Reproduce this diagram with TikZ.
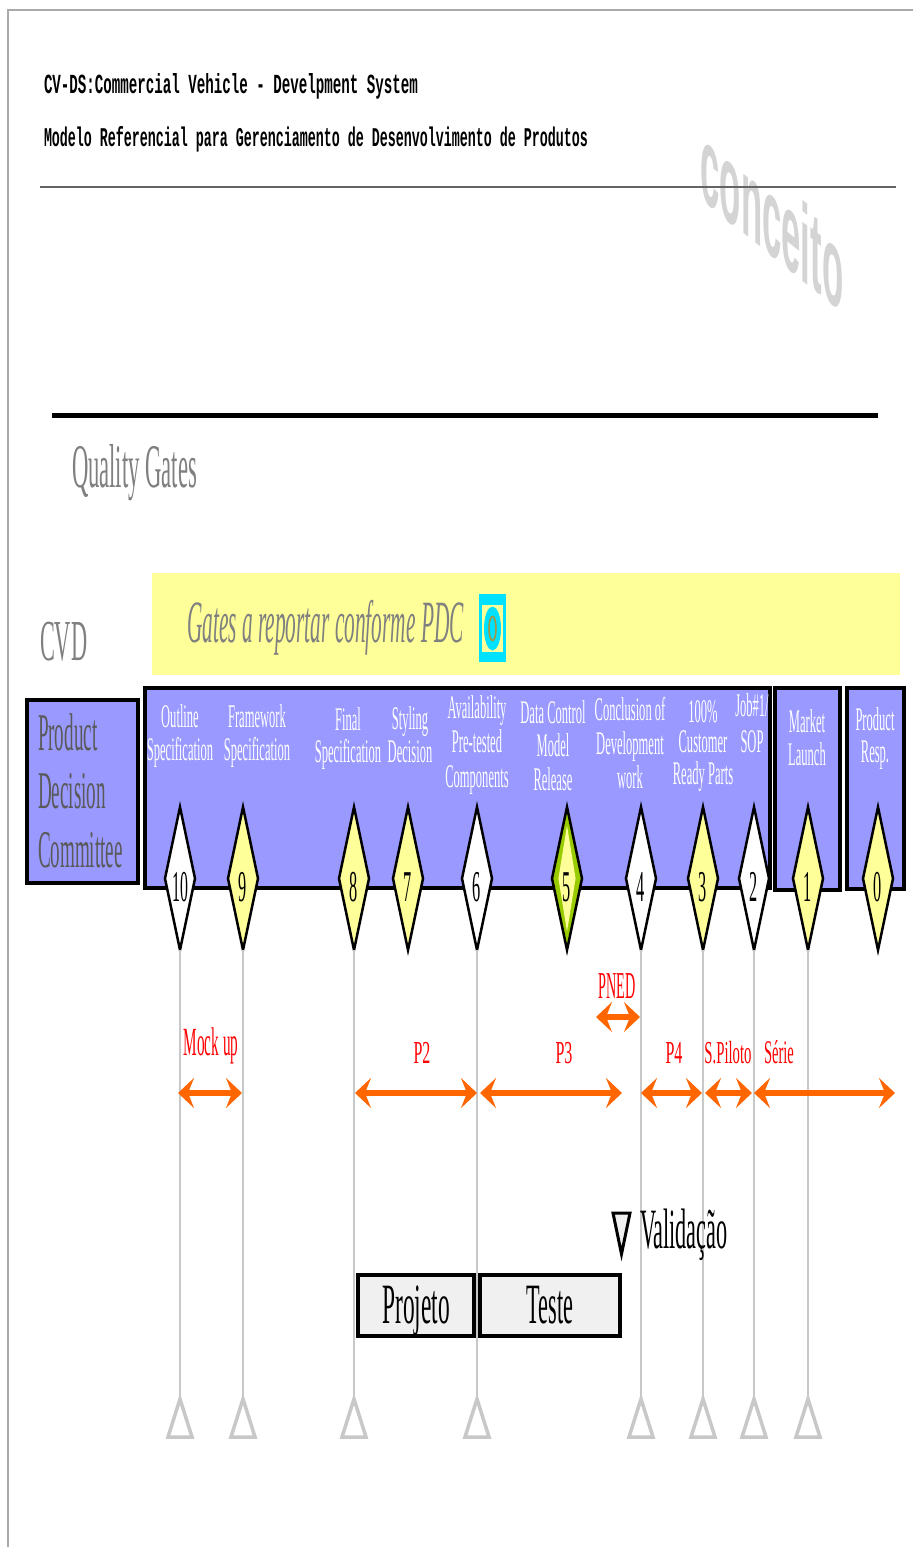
\documentclass[tikz,border=0pt]{standalone}
\usepackage{fontspec}
\usepackage{graphicx}
\setmainfont{Liberation Serif}
\newfontfamily\wmfont{Liberation Sans}
\newfontfamily\monofnt{Liberation Mono}
\usetikzlibrary{arrows.meta,shapes.geometric}
\definecolor{gateblue}{RGB}{153,153,255}
\definecolor{lightyellow}{RGB}{255,255,153}
\definecolor{gatelime}{RGB}{153,204,0}
\definecolor{orangeline}{RGB}{255,102,0}
\definecolor{txtgray}{RGB}{128,128,128}
\definecolor{pdcgray}{RGB}{90,90,90}
\definecolor{linegray}{RGB}{200,200,200}
\definecolor{wmgray}{RGB}{212,212,212}
\definecolor{iconcyan}{RGB}{0,225,255}
\definecolor{iconolive}{RGB}{160,150,70}
\definecolor{boxgray}{RGB}{240,240,240}
\definecolor{framegray}{RGB}{170,170,170}
\definecolor{rulegray}{RGB}{100,100,100}
\definecolor{labelred}{RGB}{255,0,0}
\newcommand{\tx}[3]{{\fontsize{#1}{#1}\selectfont\scalebox{#2}[1]{#3}}}
\newcommand{\mlc}[4]{{\fontsize{#1}{#2}\selectfont\scalebox{#3}[1]{\begin{tabular}[t]{@{}c@{}}#4\end{tabular}}}}
\newcommand{\mll}[4]{{\fontsize{#1}{#2}\selectfont\scalebox{#3}[1]{\begin{tabular}[t]{@{}l@{}}#4\end{tabular}}}}
\begin{document}
\begin{tikzpicture}[x=1pt,y=-1pt,
  every node/.style={inner sep=0pt, outer sep=0pt},
  gate/.style={diamond, aspect=0.2, draw=black, line width=2.5pt, minimum width=30pt, minimum height=143pt, text height=45pt, text depth=0pt},
  blbl/.style={anchor=base, text=white},
  rlbl/.style={anchor=base, text=labelred},
  gline/.style={draw=linegray, line width=2pt},
  gtri/.style={draw=linegray, line width=3.5pt, line join=miter},
  oarr/.style={draw=orangeline, line width=6pt, >={Stealth[length=16pt,width=30pt,inset=6pt]}, <->},
  bluebox/.style={fill=gateblue, draw=black, line width=4pt},
  phasebox/.style={draw=black, fill=boxgray, line width=4pt, text height=39pt, text depth=4pt}
]
\useasboundingbox (0,0) rectangle (913,1547);
\fill[white] (0,0) rectangle (913,1547);
\draw[framegray, line width=1.5pt] (8,1547) -- (8,10) -- (913,10);

% titles
\node[anchor=base west] (title1) at (44,93) {\resizebox{374pt}{20pt}{\monofnt\bfseries CV-DS:Commercial Vehicle - Develpment System}};
\node[anchor=base west] (title2) at (44,146) {\resizebox{544pt}{20pt}{\monofnt\bfseries Modelo Referencial para Gerenciamento de Desenvolvimento de Produtos}};

% watermark
\begin{scope}[shift={(772,216)}]
\node[yslant=-0.8, transform shape, text=wmgray] (wm) at (0,0) {\wmfont\bfseries\fontsize{112}{112}\selectfont\scalebox{0.31}[1]{conceito}};
\end{scope}
\draw[rulegray, line width=1.5pt] (40,187) -- (896,187);

\draw[black, line width=5pt] (52,415) -- (878,415);

\node[anchor=base west, text=txtgray] (qg) at (72,487) {\tx{62}{0.365}{Quality Gates}};
\node[anchor=base west, text=txtgray] (cvd) at (40,660) {\tx{58}{0.385}{CVD}};

% yellow banner
\fill[lightyellow] (152,573) rectangle (900,675);
\node[anchor=base west, text=txtgray] (banner) at (187,642) {\itshape\tx{60}{0.356}{Gates a reportar conforme PDC}};
\fill[iconcyan] (479,594) rectangle (506,662);
\fill[lightyellow] (482,605) rectangle (503,652);
\fill[iconcyan] (492.5,628.5) ellipse [x radius=8.5, y radius=22];
\draw[iconolive, line width=1.6pt] (492.5,628.5) ellipse [x radius=3.5, y radius=12];

% boxes
\draw[bluebox] (27,700) rectangle (138,883);
\node[anchor=base west, text=pdcgray] (pdc) at (38,750) {\mll{53}{58.5}{0.36}{Product\\Decision\\Committee}};
\draw[bluebox] (145,688) rectangle (769.5,888);
\draw[bluebox] (775,688) rectangle (840,890);
\draw[bluebox] (847,688) rectangle (904,889);

% gate labels
\node[blbl] (l10) at (180,727) {\mlc{33}{33}{0.38}{Outline\\Specification}};
\node[blbl] (l9) at (257,727) {\mlc{33}{33}{0.38}{Framework\\Specification}};
\node[blbl] (l8) at (348,730) {\mlc{33}{32}{0.38}{Final\\Specification}};
\node[blbl] (l7) at (410,729) {\mlc{33}{33}{0.38}{Styling\\Decision}};
\node[blbl] (l6) at (477,718) {\mlc{33}{34.5}{0.38}{Availability\\Pre-tested\\Components}};
\node[blbl] (l5) at (553,723) {\mlc{33}{33.5}{0.38}{Data Control\\Model\\Release}};
\node[blbl] (l4) at (630,720) {\mlc{33}{34}{0.38}{Conclusion of\\Development\\work}};
\node[blbl] (l3) at (703,722) {\mlc{33}{29}{0.38}{100\%\\Customer\\Ready Parts}};
\node[blbl] (l2) at (752,716) {\mlc{33}{36}{0.38}{Job\#1/\\SOP}};
\node[blbl] (l1) at (807,732) {\mlc{33}{33}{0.38}{Market\\Launch}};
\node[blbl] (l0) at (875,730) {\mlc{33}{32}{0.38}{Product\\Resp.}};

% triangle apex coordinates
\foreach \n/\x in {10/180,9/243,8/354,6/477,4/641,3/703,2/754,1/808}{
  \coordinate (t\n) at (\x,1399);
}

% gates
\node[gate, fill=white] (g10) at (180,878.5) {\tx{44}{0.36}{10}};
\node[gate, fill=lightyellow] (g9) at (243,878.5) {\tx{44}{0.37}{9}};
\node[gate, fill=lightyellow] (g8) at (354,878.5) {\tx{44}{0.37}{8}};
\node[gate, fill=lightyellow] (g7) at (408,878.5) {\tx{44}{0.37}{7}};
\node[gate, fill=white] (g6) at (477,878.5) {\tx{44}{0.37}{6}};
\node[gate, fill=gatelime] (g5) at (567,878.5) {};
\node[diamond, aspect=0.2, fill=lightyellow, minimum width=17pt, minimum height=106pt, text height=45pt, text depth=0pt] (g5in) at (567,878.5) {\tx{44}{0.37}{5}};
\node[gate, fill=white] (g4) at (641,878.5) {\tx{44}{0.37}{4}};
\node[gate, fill=lightyellow] (g3) at (703,878.5) {\tx{44}{0.37}{3}};
\node[gate, fill=white] (g2) at (754,878.5) {\tx{44}{0.37}{2}};
\node[gate, fill=lightyellow] (g1) at (808,878.5) {\tx{44}{0.37}{1}};
\node[gate, fill=lightyellow] (g0) at (878,878.5) {\tx{44}{0.37}{0}};

% vertical lines and bottom triangles
\foreach \n in {10,9,8,6,4,3,2,1}{
  \draw[gline] (g\n.south) -- (t\n);
  \draw[gtri] (t\n) -- ++(12,38) -- ++(-24,0) -- cycle;
}

% phase arrows
\coordinate (mA) at (178,1093); \coordinate (mB) at (242,1093);
\coordinate (p2A) at (355,1093); \coordinate (p2B) at (477,1093);
\coordinate (p3A) at (480,1093); \coordinate (p3B) at (622,1093);
\coordinate (p4A) at (641,1093); \coordinate (p4B) at (702,1093);
\coordinate (spA) at (705,1093); \coordinate (spB) at (752,1093);
\coordinate (srA) at (754,1093); \coordinate (srB) at (895,1093);
\coordinate (pnA) at (596,1017); \coordinate (pnB) at (640,1017);
\draw[oarr] (mA) -- (mB);
\draw[oarr] (p2A) -- (p2B);
\draw[oarr] (p3A) -- (p3B);
\draw[oarr] (p4A) -- (p4B);
\draw[oarr] (spA) -- (spB);
\draw[oarr] (srA) -- (srB);
\draw[oarr] (pnA) -- (pnB);

\node[rlbl] (lmock) at (211,1055) {\tx{40}{0.38}{Mock up}};
\node[rlbl] (lpned) at (617,998) {\tx{38}{0.373}{PNED}};
\node[rlbl] (lp2) at (422,1063) {\tx{32}{0.5}{P2}};
\node[rlbl] (lp3) at (564,1063) {\tx{32}{0.5}{P3}};
\node[rlbl] (lp4) at (674,1063) {\tx{32}{0.5}{P4}};
\node[rlbl] (lsp) at (728,1063) {\tx{32}{0.46}{S.Piloto}};
\node[rlbl] (lsr) at (779,1063) {\tx{33}{0.44}{Série}};

% validation
\draw[black, line width=3pt, fill=boxgray, line join=miter] (613,1213) -- (630,1213) -- (621.5,1254) -- cycle;
\node[anchor=base west] (val) at (640,1248) {\tx{57}{0.39}{Validação}};

\node[phasebox, minimum width=116pt, minimum height=61pt] (proj) at (416,1305.5) {\tx{57}{0.41}{Projeto}};
\node[phasebox, minimum width=140pt, minimum height=61pt] (teste) at (550,1305.5) {\tx{57}{0.39}{Teste}};
\end{tikzpicture}
\end{document}
